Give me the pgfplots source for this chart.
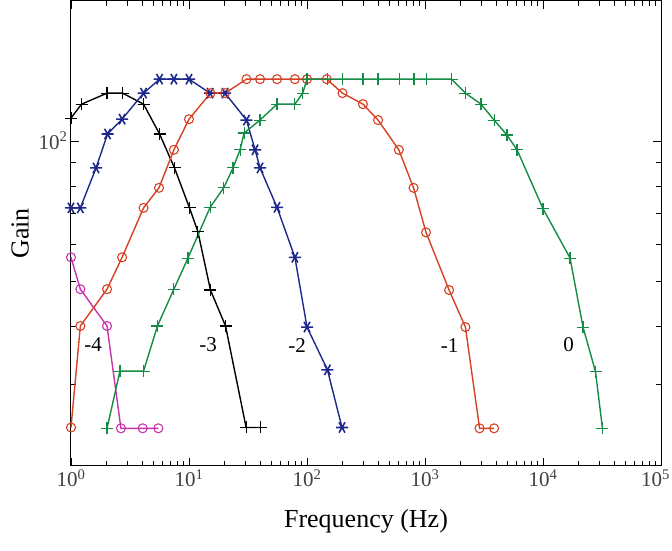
\documentclass[border=0pt]{standalone}
\usepackage{pgfplots}
\pgfplotsset{compat=1.18}
\usepackage{fontspec}
\setmainfont{Liberation Serif}
\definecolor{cred}{RGB}{215,65,35}
\definecolor{cblue}{RGB}{30,40,140}
\definecolor{cgreen}{RGB}{20,140,70}
\definecolor{cmag}{RGB}{200,50,170}
\begin{document}
\begin{tikzpicture}
\begin{axis}[
  at={(0,0)}, anchor=south west,
  scale only axis, width=590pt, height=465pt,
  xmode=log, ymode=log,
  xmin=1, xmax=100000, ymin=20, ymax=200,
  xtick={1,10,100,1000,10000,100000},
  xticklabels={10\textsuperscript{0},10\textsuperscript{1},10\textsuperscript{2},10\textsuperscript{3},10\textsuperscript{4},\llap{10\textsuperscript{5}\hspace{-9pt}}},
  ytick={100}, yticklabels={10\textsuperscript{2}},
  minor ytick={30,40,50,60,70,80,90},
  tick style={black, line width=0.8pt},
  major tick length=8pt, minor tick length=5pt,
  tick align=inside,
  axis line style={line width=1pt},
  ticklabel style={font=\fontsize{21}{24}\selectfont, text=black!75},
  xlabel={Frequency (Hz)}, ylabel={Gain},
  label style={font=\fontsize{26}{30}\selectfont},
  xlabel style={at={(axis description cs:0.5,-0.118)}, anchor=center},
  ylabel style={at={(axis description cs:-0.0864,0.5)}, anchor=center},
  every axis plot/.append style={line width=1.4pt},
  clip=false,
]
% -4
\addplot[cmag, mark=o, mark size=4.5pt, mark options={line width=1.1pt}] coordinates {
(1.0,56.2) (1.2,48) (2.02,40) (2.65,24.1) (4.05,24.1) (5.5,24.1)};
% -3
\addplot[black, mark=+, mark size=6pt, mark options={line width=1.1pt}] coordinates {
(1.0,112) (1.23,120) (2.02,126.7) (2.74,126.7) (4.12,120) (5.63,103.5) (7.54,87.5) (10.1,71.8) (11.9,63.8) (15.2,47.8) (20.4,40) (30.5,24.2) (40.4,24.2)};
% -2
\addplot[cblue, mark=asterisk, mark size=6pt, mark options={line width=1.6pt, rotate=90}] coordinates {
(1.0,71.8) (1.2,71.8) (1.63,87.5) (2.04,103.5) (2.71,111.4) (4.12,126.7) (5.63,135.8) (7.45,135.8) (10,135.8) (15.1,126.7) (20.2,126.7) (30.7,110.9) (36.3,95.7) (40,87.5) (55.7,72) (79,56.2) (100,39.8) (149,32.2) (198,24.2)};
% -1
\addplot[cred, mark=o, mark size=4.5pt, mark options={line width=1.1pt}] coordinates {
(1.0,24.2) (1.2,40) (2.02,48) (2.71,56.2) (4.12,71.8) (5.57,79.3) (7.45,95.7) (10,111.4) (15.2,126.7) (20.2,126.7) (30.7,135.8) (40,135.8) (55.7,135.8) (79,135.8) (100,135.8) (147,135.8) (200,126.7) (298,120) (400,110.9) (600,95.7) (800,79.3) (1020,63.6) (1600,47.8) (2200,39.8) (2900,24.1) (3850,24.1)};
% 0
\addplot[cgreen, mark=+, mark size=6pt, mark options={line width=1.1pt}] coordinates {
(2.02,24.1) (2.6,32) (4.12,32) (5.4,40) (7.45,48) (9.8,56) (15.1,72) (19.7,79.3) (23.6,87.5) (27.1,95.7) (29.3,104) (40,110.9) (55.7,120) (79,120) (92,126.7) (100,135.8) (149,135.8) (200,135.8) (298,135.8) (400,135.8) (610,135.8) (807,135.8) (1030,135.8) (1680,135.8) (2200,126.7) (2985,120) (3850,110.9) (4950,103) (6025,95.7) (10000,71.5) (16950,56) (21830,39.8) (27860,31.9) (31900,24.1)};
\node[font=\fontsize{21}{24}\selectfont] at (axis cs:1.54,36.4) {-4};
\node[font=\fontsize{21}{24}\selectfont] at (axis cs:14.5,36.4) {-3};
\node[font=\fontsize{21}{24}\selectfont] at (axis cs:82.6,36.4) {-2};
\node[font=\fontsize{21}{24}\selectfont] at (axis cs:1620,36.4) {-1};
\node[font=\fontsize{21}{24}\selectfont] at (axis cs:16500,36.4) {0};
\end{axis}
\pgfresetboundingbox
\path[use as bounding box] (-71pt,-84pt) rectangle (601pt,466pt);
\end{tikzpicture}
\end{document}
